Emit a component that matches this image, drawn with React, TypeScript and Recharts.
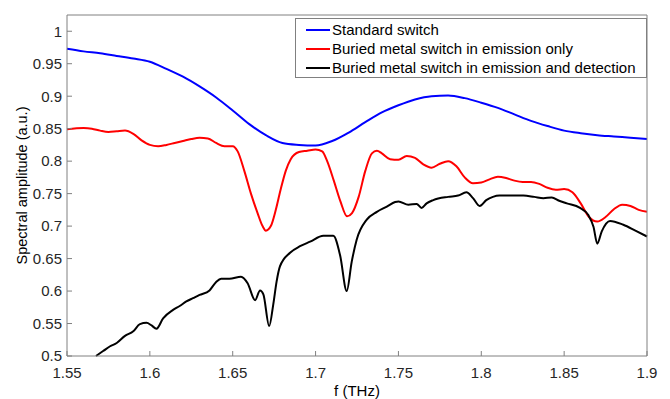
import { LineChart, Line, XAxis, YAxis, Legend } from "recharts";

const xTicks = [1.55, 1.6, 1.65, 1.7, 1.75, 1.8, 1.85, 1.9];
const yTicks = [0.5, 0.55, 0.6, 0.65, 0.7, 0.75, 0.8, 0.85, 0.9, 0.95, 1];

const standardF = [1.55, 1.56, 1.57, 1.58, 1.59, 1.6, 1.61, 1.62, 1.63, 1.64, 1.65, 1.66, 1.67, 1.68, 1.69, 1.7, 1.71, 1.72, 1.73, 1.74, 1.75, 1.76, 1.77, 1.78, 1.79, 1.8, 1.81, 1.82, 1.83, 1.84, 1.85, 1.86, 1.87, 1.88, 1.89, 1.9];
const standardA = [0.973, 0.969, 0.966, 0.962, 0.958, 0.953, 0.942, 0.93, 0.915, 0.898, 0.878, 0.857, 0.84, 0.828, 0.825, 0.824, 0.831, 0.844, 0.86, 0.875, 0.886, 0.895, 0.9, 0.901, 0.897, 0.89, 0.882, 0.872, 0.862, 0.854, 0.847, 0.843, 0.84, 0.838, 0.836, 0.834];

const emissionF = [1.55, 1.56, 1.565, 1.57, 1.575, 1.58, 1.585, 1.59, 1.595, 1.6, 1.605, 1.61, 1.615, 1.62, 1.625, 1.63, 1.635, 1.64, 1.645, 1.65, 1.653, 1.657, 1.661, 1.665, 1.668, 1.67, 1.673, 1.676, 1.679, 1.682, 1.685, 1.69, 1.695, 1.7, 1.704, 1.707, 1.711, 1.715, 1.719, 1.722, 1.726, 1.73, 1.734, 1.737, 1.74, 1.745, 1.75, 1.755, 1.76, 1.765, 1.77, 1.775, 1.78, 1.785, 1.79, 1.795, 1.8, 1.805, 1.81, 1.815, 1.82, 1.825, 1.83, 1.835, 1.84, 1.845, 1.85, 1.855, 1.86, 1.865, 1.87, 1.875, 1.88, 1.885, 1.89, 1.895, 1.9];
const emissionA = [0.849, 0.851, 0.85, 0.847, 0.845, 0.846, 0.847, 0.842, 0.832, 0.825, 0.823, 0.825, 0.828, 0.831, 0.834, 0.836, 0.835, 0.828, 0.823, 0.823, 0.815, 0.785, 0.75, 0.72, 0.7, 0.693, 0.7, 0.725, 0.757, 0.785, 0.803, 0.814, 0.816, 0.818, 0.815, 0.8, 0.77, 0.738, 0.715, 0.72, 0.745, 0.785, 0.812, 0.816, 0.812, 0.803, 0.802, 0.808, 0.805, 0.795, 0.79, 0.796, 0.8, 0.792, 0.775, 0.766, 0.767, 0.772, 0.776, 0.774, 0.77, 0.768, 0.768, 0.765, 0.759, 0.756, 0.757, 0.752, 0.735, 0.714, 0.707, 0.714, 0.726, 0.733, 0.731, 0.725, 0.722];

const bothF = [1.5675, 1.572, 1.576, 1.58, 1.585, 1.59, 1.594, 1.598, 1.601, 1.604, 1.608, 1.614, 1.618, 1.622, 1.626, 1.63, 1.636, 1.64, 1.643, 1.648, 1.655, 1.659, 1.6635, 1.6665, 1.6685, 1.672, 1.6745, 1.6765, 1.6785, 1.6846, 1.6906, 1.6967, 1.7047, 1.7107, 1.7148, 1.7188, 1.7218, 1.7248, 1.7309, 1.737, 1.743, 1.748, 1.75, 1.756, 1.761, 1.764, 1.767, 1.771, 1.78, 1.786, 1.791, 1.795, 1.799, 1.803, 1.807, 1.811, 1.82, 1.8254, 1.832, 1.8375, 1.8425, 1.847, 1.8516, 1.8596, 1.8646, 1.8677, 1.87, 1.8727, 1.8777, 1.8857, 1.893, 1.9];
const bothA = [0.5, 0.508, 0.515, 0.52, 0.531, 0.538, 0.549, 0.551, 0.547, 0.542, 0.558, 0.571, 0.577, 0.584, 0.589, 0.594, 0.601, 0.614, 0.619, 0.619, 0.622, 0.612, 0.586, 0.601, 0.595, 0.546, 0.58, 0.615, 0.638, 0.659, 0.669, 0.676, 0.685, 0.685, 0.655, 0.6, 0.645, 0.679, 0.71, 0.722, 0.73, 0.737, 0.738, 0.733, 0.734, 0.728, 0.735, 0.74, 0.745, 0.747, 0.752, 0.743, 0.731, 0.74, 0.745, 0.747, 0.747, 0.747, 0.745, 0.743, 0.744, 0.739, 0.735, 0.728, 0.717, 0.699, 0.673, 0.692, 0.708, 0.702, 0.693, 0.684];

const toRows = (f: number[], a: number[]) => f.map((v, i) => ({ f: v, a: a[i] }));

const series = [
  { name: "Standard switch", color: "#0000ff", data: toRows(standardF, standardA) },
  { name: "Buried metal switch in emission only", color: "#ff0000", data: toRows(emissionF, emissionA) },
  { name: "Buried metal switch in emission and detection", color: "#000000", data: toRows(bothF, bothA) },
];

const font = "'Liberation Sans', Arial, Helvetica, sans-serif";
const axisColor = "#808080";
const textColor = "#262626";

function LegendBox() {
  return (
    <div
      style={{
        border: `1px solid ${axisColor}`,
        background: "#fff",
        padding: "1px 10px 0 10px",
        fontFamily: font,
        fontSize: 15,
        color: "#000",
        lineHeight: "19px",
      }}
    >
      {series.map((s) => (
        <div key={s.name} style={{ display: "flex", alignItems: "center", whiteSpace: "nowrap" }}>
          <span style={{ display: "inline-block", width: 24, height: 2, background: s.color, marginRight: 2 }} />
          {s.name}
        </div>
      ))}
    </div>
  );
}

export default function App() {
  return (
    <div style={{ position: "absolute", left: 0, top: 0, background: "#fff" }}>
      <LineChart width={670} height={399} margin={{ top: 14, right: 22, bottom: 0, left: 0 }}>
        <XAxis
          xAxisId="top"
          orientation="top"
          type="number"
          dataKey="f"
          domain={[1.55, 1.9]}
          ticks={xTicks}
          height={1}
          tick={false}
          tickSize={-5}
          stroke={axisColor}
        />
        <YAxis
          yAxisId="right"
          orientation="right"
          type="number"
          domain={[0.5, 1.025]}
          ticks={yTicks}
          width={1}
          tick={false}
          tickSize={-5}
          stroke={axisColor}
        />
        <XAxis
          type="number"
          dataKey="f"
          domain={[1.55, 1.9]}
          ticks={xTicks}
          height={43}
          tickSize={-5}
          tickMargin={16}
          stroke={axisColor}
          tick={{ fill: textColor, fontSize: 15, fontFamily: font }}
          tickFormatter={(v: number) => String(v)}
          label={{ value: "f (THz)", position: "insideBottom", offset: 3, fill: "#000", fontSize: 15, fontFamily: font }}
        />
        <YAxis
          type="number"
          domain={[0.5, 1.025]}
          ticks={yTicks}
          width={67}
          tickSize={-5}
          tickMargin={10}
          stroke={axisColor}
          tick={{ fill: textColor, fontSize: 15, fontFamily: font }}
          tickFormatter={(v: number) => String(v)}
          label={{ value: "Spectral amplitude (a.u.)", angle: -90, position: "center", dx: -12, fill: "#000", fontSize: 14.5, fontFamily: font }}
        />
        {series.map((s) => (
          <Line
            key={s.name}
            data={s.data}
            dataKey="a"
            name={s.name}
            type="monotone"
            stroke={s.color}
            strokeWidth={2}
            dot={false}
            activeDot={false}
            isAnimationActive={false}
          />
        ))}
        <Legend
          layout="vertical"
          align="center"
          verticalAlign="middle"
          content={() => <LegendBox />}
          wrapperStyle={{ position: "absolute", left: 295, top: 18, width: "auto" }}
        />
      </LineChart>
    </div>
  );
}
